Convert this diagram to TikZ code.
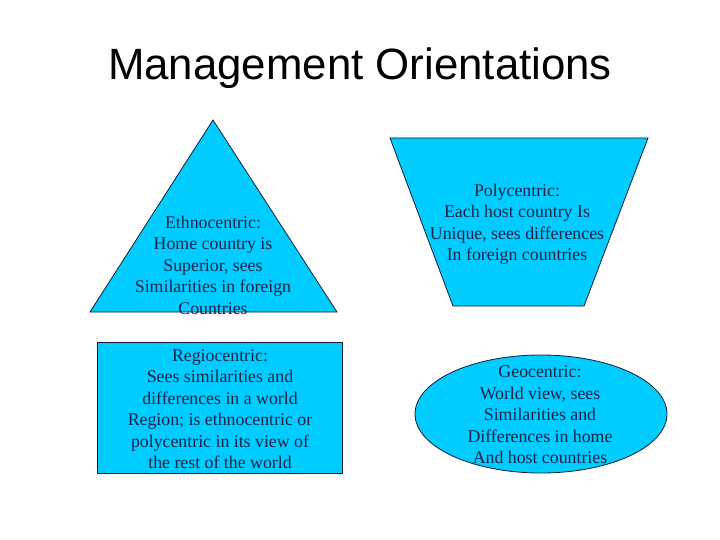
\documentclass[tikz,border=0pt]{standalone}
\usepackage{fontspec}
\setmainfont{Liberation Serif}
\newfontfamily\titlefont{Liberation Sans}
\begin{document}
\begin{tikzpicture}[x=1pt,y=-1pt,
  shapefill/.style={fill={rgb,255:red,0;green,204;blue,255}, draw={rgb,255:red,20;green,30;blue,50}, line width=0.8pt},
  body/.style={text={rgb,255:red,25;green,35;blue,70}, align=center, inner sep=0pt,
    font=\fontsize{17.8}{21.5}\selectfont}]
\useasboundingbox (0,0) rectangle (720,540);
\node[font=\titlefont\fontsize{43.8}{50}\selectfont, inner sep=0pt] (title) at (360,68) {Management Orientations};
% triangle
\draw[shapefill] (213,120) -- (337,312) -- (90,312) -- cycle;
\node[body] (ethno) at (213,265) {Ethnocentric:\\Home country is\\Superior, sees\\Similarities in foreign\\Countries};
% trapezoid
\draw[shapefill] (390,138) -- (648,138) -- (584,306) -- (453,306) -- cycle;
\node[body] (poly) at (517,224) {Polycentric:\\Each host country Is\\Unique, sees differences\\In foreign countries};
% rectangle
\draw[shapefill] (97,342) rectangle (342,473);
\node[body] (regio) at (220,409) {Regiocentric:\\Sees similarities and\\differences in a world\\Region; is ethnocentric or\\polycentric in its view of\\the rest of the world};
% ellipse
\draw[shapefill] (541,414) ellipse [x radius=126, y radius=59];
\node[body] (geo) at (540,415) {Geocentric:\\World view, sees\\Similarities and\\Differences in home\\And host countries};
\end{tikzpicture}
\end{document}
